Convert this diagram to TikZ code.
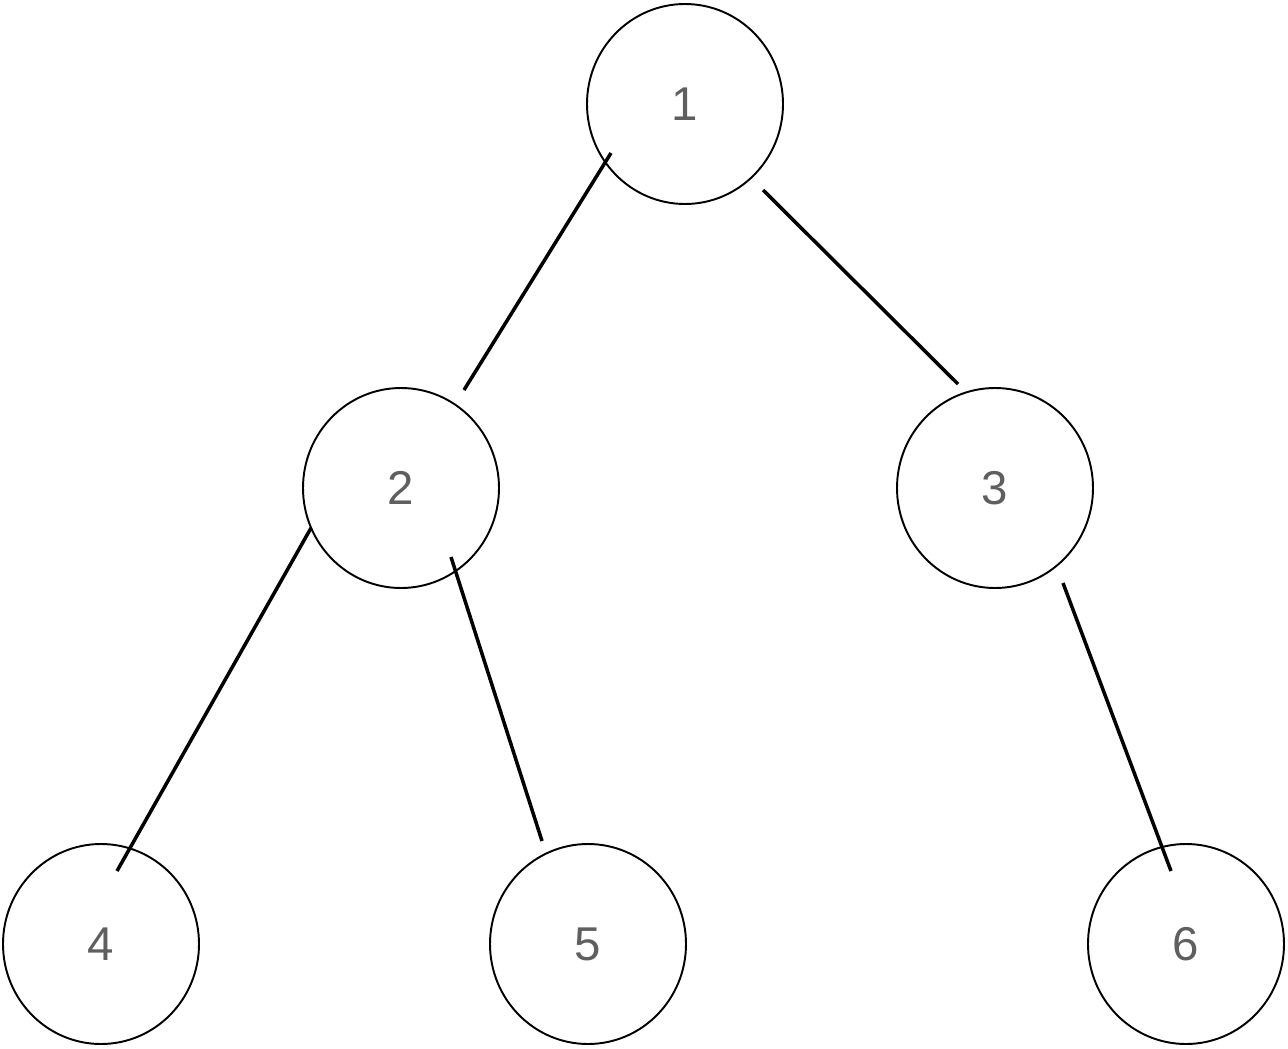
\documentclass[tikz,border=0pt]{standalone}
\usepackage{fontspec}
\setmainfont{Liberation Sans}
\usetikzlibrary{shapes.geometric}
\definecolor{numgray}{RGB}{95, 95, 95}
\tikzset{
  treenode/.style={draw=black, line width=1.1pt, ellipse, inner sep=0pt,
    minimum width=196*0.02cm, minimum height=200*0.02cm,
    text=numgray, font=\fontsize{27}{30}\selectfont},
  edge/.style={line width=2pt, black}
}
\begin{document}
\begin{tikzpicture}[x=0.02cm, y=-0.02cm]
        \useasboundingbox (0, 0) rectangle (1288, 1048);

        \node[treenode] (n1) at (685, 104){1};
        \node[treenode] (n2) at (401, 488){2};
        \node[treenode] (n3) at (995, 488){3};
        \node[treenode] (n4) at (101, 944){4};
        \node[treenode] (n5) at (588, 944){5};
        \node[treenode] (n6) at (1186, 944){6};

        % loose ends of the edges
        \coordinate (e12a) at (611, 153);
        \coordinate (e12b) at (464, 390);
        \coordinate (e13a) at (763, 190);
        \coordinate (e13b) at (958, 384);
        \coordinate (e24a) at (311, 528);
        \coordinate (e24b) at (117, 871);
        \coordinate (e25a) at (451, 557);
        \coordinate (e25b) at (542, 841);
        \coordinate (e36a) at (1063, 583);
        \coordinate (e36b) at (1171, 871);

        \draw[edge] (e12a) -- (e12b);
        \draw[edge] (e13a) -- (e13b);
        \draw[edge] (e24a) -- (e24b);
        \draw[edge] (e25a) -- (e25b);
        \draw[edge] (e36a) -- (e36b);
    \end{tikzpicture}
\end{document}
